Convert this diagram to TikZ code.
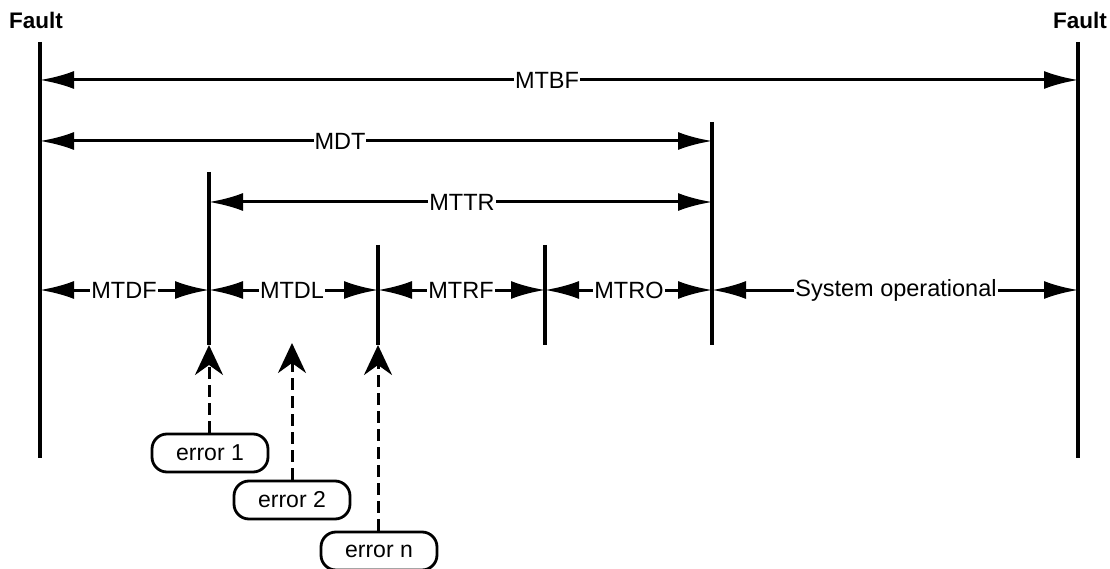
\documentclass[tikz,border=0pt]{standalone}
\usepackage{fontspec}
\setmainfont{Liberation Sans}
\usetikzlibrary{arrows.meta}
\begin{document}
\begin{tikzpicture}[x=1pt,y=-1pt,
 vline/.style={line width=3.4pt},
 dimline/.style={line width=3pt,{Latex[length=34pt,width=18pt]}-{Latex[length=34pt,width=18pt]}},
 lbl/.style={fill=white,inner sep=1pt,font=\fontsize{23.5}{24}\selectfont},
 fault/.style={inner sep=0pt,font=\bfseries\fontsize{22.5}{24}\selectfont},
 errbox/.style={draw,line width=2.8pt,rounded corners=15pt,minimum width=116pt,minimum height=38pt,font=\fontsize{23}{24}\selectfont,inner sep=2pt,fill=white},
 evt/.style={line width=3pt,dash pattern=on 12pt off 6pt,-{Stealth[length=30pt,width=28pt,inset=10pt]}}
]
\useasboundingbox (0,0) rectangle (1110,569);
% fault labels
\node[fault] (faultL) at (36,20) {Fault};
\node[fault] (faultR) at (1080,20) {Fault};
% vertical marker lines
\coordinate (l0t) at (40,42);   \coordinate (l0b) at (40,458);
\coordinate (r0t) at (1078,42); \coordinate (r0b) at (1078,458);
\coordinate (v1t) at (209,172); \coordinate (v1b) at (209,345);
\coordinate (v2t) at (378,245); \coordinate (v2b) at (378,345);
\coordinate (v3t) at (545,245); \coordinate (v3b) at (545,345);
\coordinate (v4t) at (712,122); \coordinate (v4b) at (712,345);
\draw[vline] (l0t) -- (l0b);
\draw[vline] (r0t) -- (r0b);
\draw[vline] (v1t) -- (v1b);
\draw[vline] (v2t) -- (v2b);
\draw[vline] (v3t) -- (v3b);
\draw[vline] (v4t) -- (v4b);
% dimension lines
\draw[dimline] (l0t |- 0,80) coordinate (mtbfA) -- (r0t |- 0,80) coordinate (mtbfB);
\node[lbl] (mtbf) at (547,80) {MTBF};
\draw[dimline] (l0t |- 0,141) coordinate (mdtA) -- (v4t |- 0,141) coordinate (mdtB);
\node[lbl] (mdt) at (340,141) {MDT};
\draw[dimline] (v1t |- 0,202) coordinate (mttrA) -- (v4t |- 0,202) coordinate (mttrB);
\node[lbl] (mttr) at (462,202) {MTTR};
% bottom row
\coordinate (p0) at (40,290);
\coordinate (p1) at (209,290);
\coordinate (p2) at (378,290);
\coordinate (p3) at (545,290);
\coordinate (p4) at (712,290);
\coordinate (p5) at (1078,290);
\draw[dimline] (p0) -- (p1);
\draw[dimline] (p1) -- (p2);
\draw[dimline] (p2) -- (p3);
\draw[dimline] (p3) -- (p4);
\draw[dimline] (p4) -- (p5);
\node[lbl] (mtdf) at (124,290) {MTDF};
\node[lbl] (mtdl) at (292,290) {MTDL};
\node[lbl] (mtrf) at (461,290) {MTRF};
\node[lbl] (mtro) at (629,290) {MTRO};
\node[lbl] (sysop) at (896,290) {System operational};
% errors
\node[errbox] (err1) at (210,453) {error 1};
\node[errbox] (err2) at (292,500) {error 2};
\node[errbox] (errn) at (379,551) {error n};
\coordinate (e2tip) at (292,343);
\draw[evt] (err1.north -| v1b) -- (v1b);
\draw[evt] (err2.north) -- (e2tip);
\draw[evt] (errn.north -| v2b) -- (v2b);
\end{tikzpicture}
\end{document}
